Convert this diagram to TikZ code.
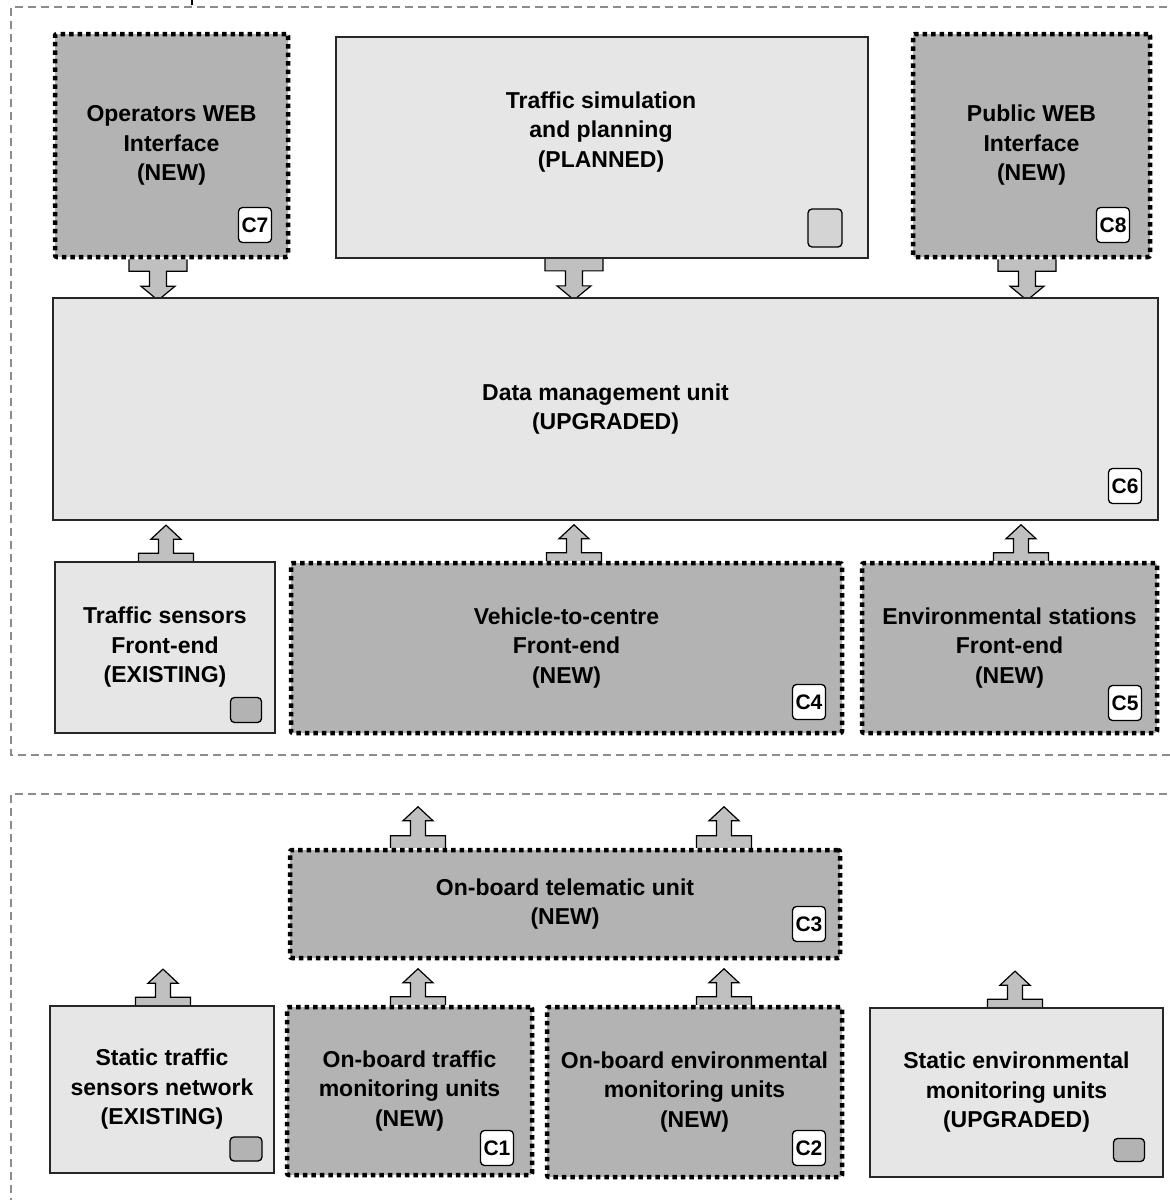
\documentclass[tikz,border=0pt]{standalone}
\usepackage{fontspec}
\setmainfont{Liberation Sans}
\usetikzlibrary{backgrounds}
\definecolor{darkfill}{RGB}{179,179,179}
\definecolor{lightfill}{RGB}{230,230,230}
\definecolor{arrowfill}{RGB}{192,192,192}
\definecolor{framegray}{RGB}{140,140,140}
\definecolor{simbadge}{RGB}{212,212,212}
\begin{document}
\begin{tikzpicture}[x=1pt,y=-1pt,
  lbl/.style={font=\fontsize{23}{29.5}\selectfont\bfseries, align=center},
  newbox/.style={lbl, draw=black, fill=darkfill, line width=4.5pt, dash pattern=on 4.5pt off 4pt, rounded corners=2pt, inner sep=0pt},
  oldbox/.style={lbl, draw=black!85, fill=lightfill, line width=1.7pt, inner sep=0pt},
  badge/.style={draw=black, line width=1.3pt, fill=white, rounded corners=4pt, minimum width=33pt, minimum height=35pt, inner sep=0pt, font=\fontsize{21}{21}\selectfont\bfseries},
  gbadge/.style={badge, fill=darkfill},
  arr/.style={draw=black, line width=1.2pt, fill=arrowfill, line join=miter},
  frm/.style={draw=framegray, line width=1.3pt, dash pattern=on 8pt off 5pt},
  uparr/.pic={\path[arr] (-27.5,0) -- (-27.5,-8) -- (-7.5,-8) -- (-7.5,-22) -- (-15,-22) -- (0,-36) -- (15,-22) -- (7.5,-22) -- (7.5,-8) -- (27.5,-8) -- (27.5,0);},
  uparrt/.pic={\path[arr] (-27.5,0) -- (-27.5,-12) -- (-7.5,-12) -- (-7.5,-27) -- (-15,-27) -- (0,-41) -- (15,-27) -- (7.5,-27) -- (7.5,-12) -- (27.5,-12) -- (27.5,0);},
  dnarr/.pic={\path[arr] (-29,0) -- (-29,12) -- (-8.5,12) -- (-8.5,27) -- (-17,27) -- (0,41) -- (17,27) -- (8.5,27) -- (8.5,12) -- (29,12) -- (29,0);},
]
\useasboundingbox (0,0) rectangle (1170,1200);

% frames
\draw[frm] (1180,7) -- (11,7) -- (11,755) -- (1180,755);
\draw[frm] (1180,794) -- (11,794) -- (11,1210);
\draw[black, line width=1.2pt] (192,0) -- (192,5);

% top section boxes
\node[newbox, minimum width=233pt, minimum height=223pt] (op) at (171.5,145.5) {Operators WEB\\Interface\\(NEW)};
\node[oldbox, minimum width=532pt, minimum height=221pt] (sim) at (602,147.5) {};
\node[lbl] (simt) at (601,132) {Traffic simulation\\and planning\\(PLANNED)};
\node[newbox, minimum width=237pt, minimum height=223pt] (pub) at (1031.5,145.5) {Public WEB\\Interface\\(NEW)};
\node[oldbox, minimum width=1105pt, minimum height=222pt] (dmu) at (605.5,409) {Data management unit\\(UPGRADED)};
\node[oldbox, minimum width=220pt, minimum height=171pt] (tsf) at (165,647.5) {Traffic sensors\\Front-end\\(EXISTING)};
\node[newbox, minimum width=551pt, minimum height=170pt] (v2c) at (566.5,648) {Vehicle-to-centre\\Front-end\\(NEW)};
\node[newbox, minimum width=295pt, minimum height=170pt] (esf) at (1009.5,648) {Environmental stations\\Front-end\\(NEW)};

% bottom section boxes
\node[newbox, minimum width=550pt, minimum height=108pt] (obt) at (565,904) {On-board telematic unit\\(NEW)};
\node[oldbox, minimum width=224pt, minimum height=167pt] (stn) at (162,1089.5) {Static traffic\\sensors network\\(EXISTING)};
\node[newbox, minimum width=245pt, minimum height=168pt] (obtm) at (409.5,1091) {On-board traffic\\monitoring units\\(NEW)};
\node[newbox, minimum width=295pt, minimum height=170pt] (obem) at (694.5,1092) {On-board environmental\\monitoring units\\(NEW)};
\node[oldbox, minimum width=293pt, minimum height=169pt] (sem) at (1016.5,1092.5) {Static environmental\\monitoring units\\(UPGRADED)};

% badges
\node[badge] (c7) at (255,225) {C7};
\node[badge, fill=simbadge, minimum width=34pt, minimum height=38pt] (simb) at (825,228) {};
\node[badge] (c8) at (1113,225) {C8};
\node[badge] (c6) at (1125,486) {C6};
\node[gbadge, minimum width=31pt, minimum height=25pt] (tsfb) at (246,710) {};
\node[badge] (c4) at (809,702) {C4};
\node[badge] (c5) at (1125,703) {C5};
\node[badge] (c3) at (809,924) {C3};
\node[gbadge, minimum width=32pt, minimum height=24pt] (stnb) at (246,1149) {};
\node[badge] (c1) at (497,1148) {C1};
\node[badge] (c2) at (809,1148) {C2};
\node[gbadge, minimum width=31pt, minimum height=23pt] (semb) at (1129,1150) {};

% block arrows (behind the boxes)
\begin{pgfonlayer}{background}
\pic at ([xshift=-13.5pt]op.south) {dnarr};
\pic at ([xshift=-28pt]sim.south) {dnarr};
\pic at ([xshift=-4.5pt]pub.south) {dnarr};
\pic at ([xshift=1pt]tsf.north) {uparr};
\pic at ([xshift=7.5pt]v2c.north) {uparr};
\pic at ([xshift=11.5pt]esf.north) {uparr};
\pic at ([xshift=-147pt]obt.north) {uparrt};
\pic at ([xshift=159pt]obt.north) {uparrt};
\pic at ([xshift=1pt]stn.north) {uparr};
\pic at ([xshift=8.5pt]obtm.north) {uparr};
\pic at ([xshift=29.5pt]obem.north) {uparr};
\pic at ([xshift=-1.5pt]sem.north) {uparr};
\end{pgfonlayer}
\end{tikzpicture}
\end{document}
